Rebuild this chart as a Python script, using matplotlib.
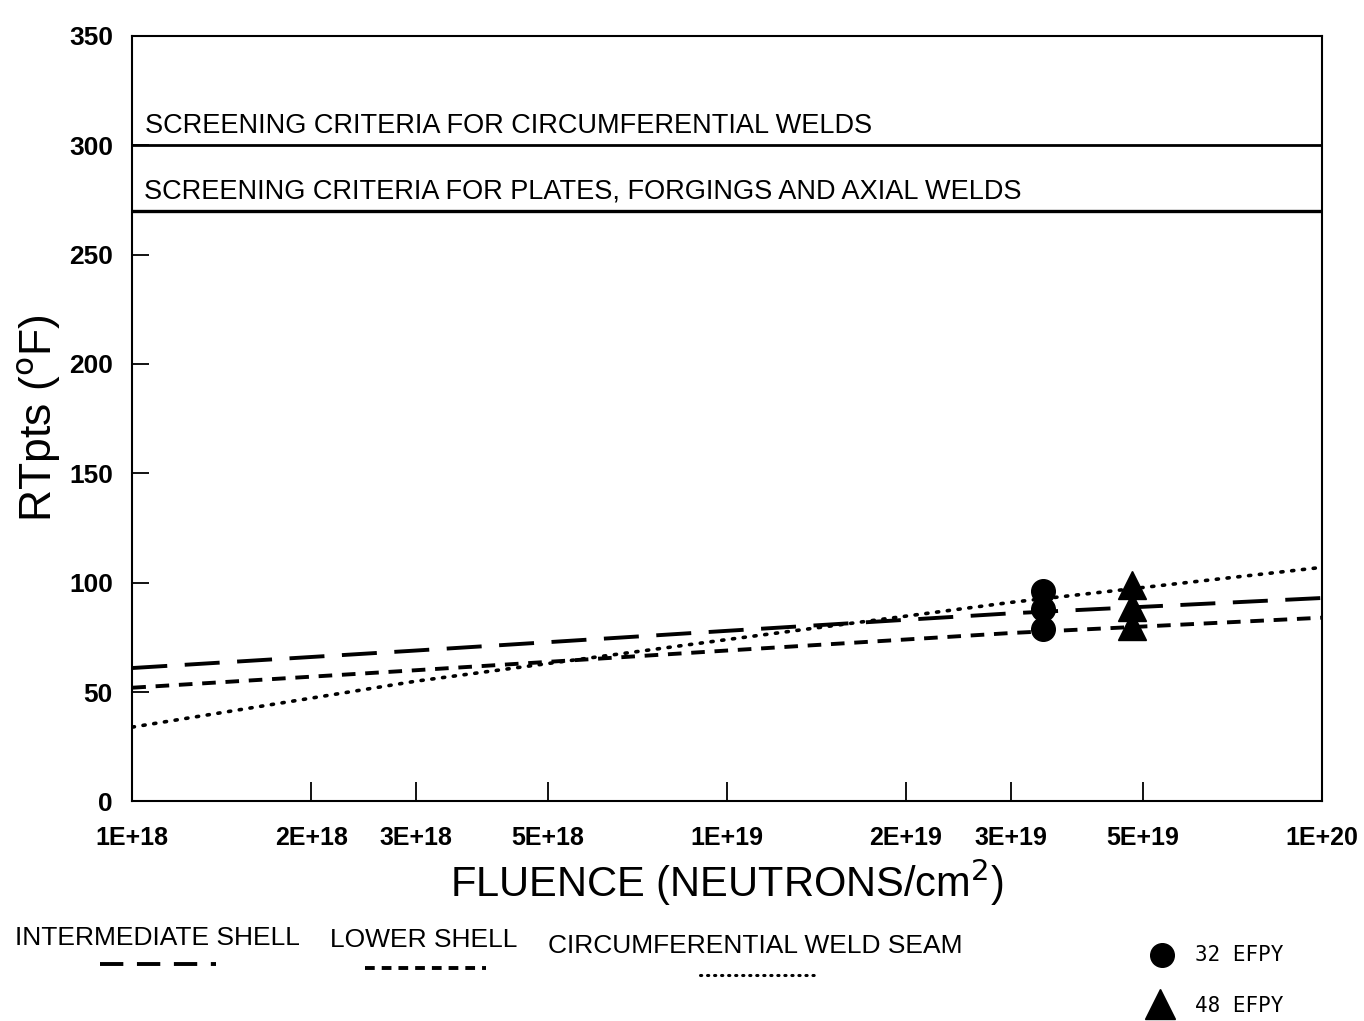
import matplotlib
matplotlib.use("Agg")
import matplotlib.pyplot as plt
from matplotlib.lines import Line2D
import numpy as np

plt.rcParams['font.family'] = ['Liberation Sans Narrow', 'Liberation Sans', 'DejaVu Sans']

# fluence points (n/cm^2)
fluence = [1e18, 3e18, 1e19, 3e19, 1e20]
intermediate_shell = [61, 69, 78, 86, 93]
lower_shell = [52, 60, 69, 77, 84]
circ_weld_seam = [34, 55, 74, 91, 107]

# EFPY points
efpy32_fluence = [3.4e19, 3.4e19, 3.4e19]
efpy32_rt = [96, 88, 79]
efpy48_fluence = [4.8e19, 4.8e19, 4.8e19]
efpy48_rt = [99, 89, 80]

screen_circ = 300
screen_plates = 270

xticks = [1e18, 2e18, 3e18, 5e18, 1e19, 2e19, 3e19, 5e19, 1e20]
xticklabels = ['1E+18', '2E+18', '3E+18', '5E+18', '1E+19', '2E+19', '3E+19', '5E+19', '1E+20']

fig = plt.figure(figsize=(13.64, 10.21), dpi=100)
ax = fig.add_axes([0.097, 0.215, 0.872, 0.75])

ax.plot(fluence, intermediate_shell, color='black', lw=2.8, dashes=(9, 4.5))
ax.plot(fluence, lower_shell, color='black', lw=2.8, dashes=(3.5, 2.5))
ax.plot(fluence, circ_weld_seam, color='black', lw=2.6, dashes=(0.6, 2.4),
        dash_capstyle='round')

ax.plot(efpy32_fluence, efpy32_rt, 'o', color='black', ms=17, ls='none')
ax.plot(efpy48_fluence, efpy48_rt, '^', color='black', ms=20, ls='none')

ax.axhline(screen_circ, color='black', lw=2)
ax.axhline(screen_plates, color='black', lw=2.4)
ax.text(1.05e18, screen_circ + 3, 'SCREENING CRITERIA FOR CIRCUMFERENTIAL WELDS',
        fontsize=19.5, va='bottom', ha='left')
ax.text(1.045e18, screen_plates + 3, 'SCREENING CRITERIA FOR PLATES, FORGINGS AND AXIAL WELDS',
        fontsize=19.5, va='bottom', ha='left')

ax.set_xscale('log')
ax.set_xlim(1e18, 1e20)
ax.set_ylim(0, 350)
ax.set_xticks(xticks)
ax.set_xticklabels(xticklabels)
ax.minorticks_off()
ax.set_yticks(np.arange(0, 351, 50))
ax.tick_params(axis='y', direction='in', length=12, width=1.3, labelsize=19, pad=14)
ax.tick_params(axis='x', direction='in', length=14, width=1.3, labelsize=18, pad=18)
for t in ax.get_yticklabels() + ax.get_xticklabels():
    t.set_family(['Liberation Sans', 'DejaVu Sans'])
    t.set_fontweight('bold')
for s in ax.spines.values():
    s.set_linewidth(1.5)

ax.set_ylabel('RTpts ($^{\\rm o}$F)', fontsize=32, labelpad=4, family=['Liberation Sans', 'DejaVu Sans'])
ax.set_xlabel('FLUENCE (NEUTRONS/cm$^{2}$)', fontsize=30, labelpad=4,
              family=['Liberation Sans', 'DejaVu Sans'])

# legend drawn below the axes
W, H = 1364, 1021
def fx(px):
    return px / W
def fy(py):
    return 1 - py / H

fig.text(fx(15), fy(938), 'INTERMEDIATE SHELL', fontsize=19, va='center', ha='left')
fig.text(fx(330), fy(940), 'LOWER SHELL', fontsize=19, va='center', ha='left')
fig.text(fx(548), fy(946), 'CIRCUMFERENTIAL WELD SEAM', fontsize=19, va='center', ha='left')
fig.add_artist(Line2D([fx(100), fx(216)], [fy(964), fy(964)], color='black', lw=2.8,
                      dashes=(6, 3.5), transform=fig.transFigure))
fig.add_artist(Line2D([fx(365), fx(486)], [fy(968), fy(968)], color='black', lw=2.8,
                      dashes=(2.5, 1.8), transform=fig.transFigure))
fig.add_artist(Line2D([fx(700), fx(818)], [fy(975), fy(975)], color='black', lw=2.2,
                      dashes=(0.4, 1.9), dash_capstyle='round', transform=fig.transFigure))

fig.add_artist(Line2D([fx(1162)], [fy(955)], marker='o', ms=17, color='black', ls='none',
                      transform=fig.transFigure))
fig.add_artist(Line2D([fx(1160)], [fy(1004)], marker='^', ms=22, color='black', ls='none',
                      transform=fig.transFigure))
fig.text(fx(1195), fy(955), '32 EFPY', fontsize=15, va='center', ha='left',
         family=['DejaVu Sans Mono'])
fig.text(fx(1195), fy(1006), '48 EFPY', fontsize=15, va='center', ha='left',
         family=['DejaVu Sans Mono'])

fig.savefig('out.png', dpi=100)
